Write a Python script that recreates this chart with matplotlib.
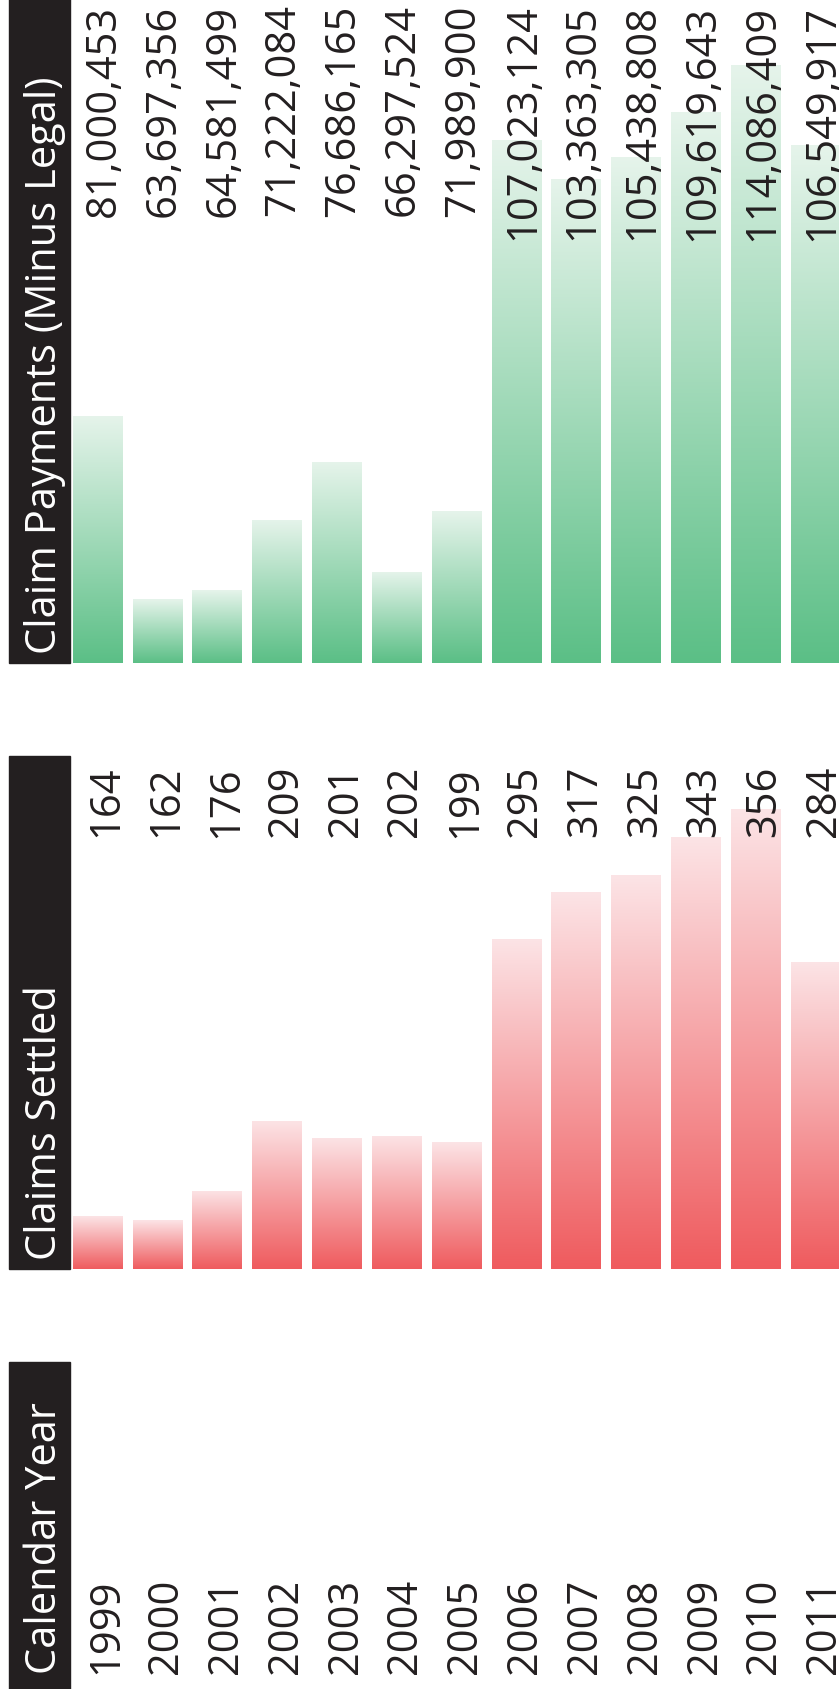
import numpy as np
import matplotlib
matplotlib.use("Agg")
import matplotlib.pyplot as plt
from matplotlib.colors import LinearSegmentedColormap
from matplotlib.patches import Rectangle
import matplotlib.transforms as mtransforms

plt.rcParams['font.family'] = ['Open Sans', 'DejaVu Sans']

# data
years = ["1999", "2000", "2001", "2002", "2003", "2004", "2005",
         "2006", "2007", "2008", "2009", "2010", "2011"]
claims_settled = [164, 162, 176, 209, 201, 202, 199, 295, 317, 325, 343, 356, 284]
claim_payments = [81000453, 63697356, 64581499, 71222084, 76686165, 66297524,
                  71989900, 107023124, 103363305, 105438808, 109619643,
                  114086409, 106549917]

W, H = 839, 1690
DARK = "#231f20"
FS = 30

fig = plt.figure(figsize=(W / 100, H / 100), dpi=100)


def fx(px):
    return px / W


def fy(py):
    # pixel from top -> figure fraction
    return 1 - py / H


def header(label, top, bottom, pad):
    fig.patches.append(Rectangle((fx(9), fy(bottom)), fx(61), (bottom - top) / H,
                                 transform=fig.transFigure, color=DARK, zorder=0))
    fig.text(fx(56), fy(bottom - pad), label, rotation=90, rotation_mode='anchor',
             ha='left', va='baseline', color='white', fontsize=FS)


def make_ax(top, bottom):
    ax = fig.add_axes([fx(70), fy(bottom), fx(W - 70), (bottom - top) / H])
    ax.set_xlim(-0.4605, 12.392)
    ax.axis('off')
    return ax


def gradient_bars(ax, values, light, dark):
    cmap = LinearSegmentedColormap.from_list("g", [dark, light])
    grad = np.linspace(0, 1, 256).reshape(-1, 1)
    bars = ax.bar(range(len(values)), values, width=0.83, color='none',
                  edgecolor='none', bottom=0)
    for b in bars:
        x0, y0 = b.get_x(), ax.get_ylim()[0]
        x1, y1 = x0 + b.get_width(), b.get_height()
        im = ax.imshow(grad, cmap=cmap, extent=[x0, x1, y0, y1], origin='lower',
                       aspect='auto', interpolation='bicubic', zorder=1)
        im.set_clip_path(b)
    return bars


# Claim payments panel
ax1 = make_ax(0, 664)
ax1.set_ylim(57.70e6, 120.31e6)
gradient_bars(ax1, claim_payments, "#e6f4eb", "#5bbf86")
ax1.set_ylim(57.70e6, 120.31e6)
tr1 = mtransforms.blended_transform_factory(ax1.transData, ax1.transAxes)
for i, v in enumerate(claim_payments):
    ax1.text(i + 0.29, 1 - 4.5 / 664, f"{v:,}", transform=tr1, rotation=90,
             rotation_mode='anchor', ha='right', va='baseline', color=DARK,
             fontsize=FS, zorder=3)
header("Claim Payments (Minus Legal)", 0, 664, 10)

# Claims settled panel
ax2 = make_ax(757, 1270)
ax2.set_ylim(139.1, 381.2)
gradient_bars(ax2, claims_settled, "#fce4e6", "#ef5b5e")
ax2.set_ylim(139.1, 381.2)
tr2 = mtransforms.blended_transform_factory(ax2.transData, ax2.transAxes)
for i, v in enumerate(claims_settled):
    ax2.text(i + 0.33, 1 - 9 / 513, f"{v:,}", transform=tr2, rotation=90,
             rotation_mode='anchor', ha='right', va='baseline', color=DARK,
             fontsize=FS, zorder=3)
header("Claims Settled", 757, 1270, 10)

# Calendar year panel
ax3 = make_ax(1363, 1690)
ax3.set_ylim(0, 1)
tr3 = mtransforms.blended_transform_factory(ax3.transData, ax3.transAxes)
for i, y in enumerate(years):
    ax3.text(i + 0.33, 16 / 327, y, transform=tr3, rotation=90,
             rotation_mode='anchor', ha='left', va='baseline', color=DARK,
             fontsize=FS)
header("Calendar Year", 1363, 1690, 16)

fig.savefig("out.png", dpi=100, facecolor='white')
